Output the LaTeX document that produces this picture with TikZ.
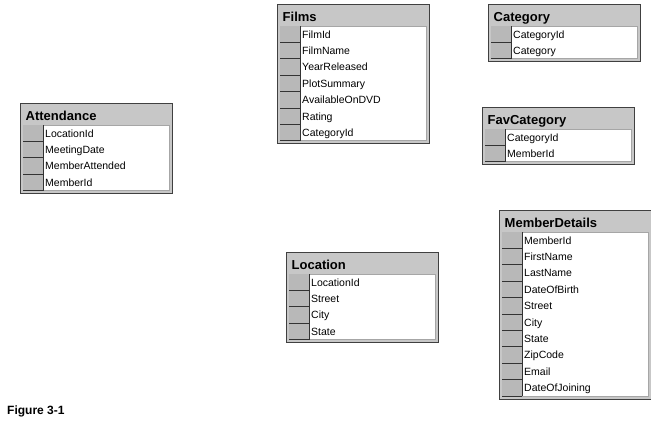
\documentclass[tikz,border=0pt]{standalone}
\usepackage{fontspec}
\setmainfont{Liberation Sans}
\usepackage{tikz}

\tikzset{
    tblframe/.style={draw=black!75, fill=black!22, line width=0.9pt},
    tblbody/.style={draw=black!35, fill=white, line width=0.7pt},
    keycol/.style={fill=black!28},
    keyline/.style={draw=black!80, line width=0.7pt},
    tbltitle/.style={font=\bfseries\fontsize{13}{15}\selectfont, anchor=base west, inner sep=0pt},
    fieldname/.style={font=\fontsize{10.5}{12}\selectfont, anchor=base west, inner sep=0pt},
}

% one table: name, top-left corner, number of rows, title, field list
\newcommand{\dbtable}[5]{%
    \begin{scope}[shift={#2}]
        \pgfmathsetmacro{\tblh}{22+16.4*#3+3}
        \draw[tblframe] (0,0) rectangle (152,\tblh);
        \draw[tblbody] (3,22) rectangle (149.5,\tblh-3);
        \fill[keycol] (3.4,22.4) rectangle (23,\tblh-3.4);
        \node[tbltitle] (#1) at (5.5,17) {#4};
        \foreach \f [count=\i] in {#5} {
            \pgfmathsetmacro{\ry}{22+16.4*\i}
            \draw[keyline] (3.4,\ry) -- (23,\ry);
            \node[fieldname] (#1-\i) at (25,\ry-4.4) {\f};
        }
        \draw[keyline] (23,22) -- (23,\tblh-3);
    \end{scope}}

\begin{document}
\begin{tikzpicture}[x=1pt, y=-1pt]
    \useasboundingbox[fill=white] (0,0) rectangle (651,424);
    \dbtable{films}{(277,4)}{7}{Films}{FilmId, FilmName, YearReleased, PlotSummary, AvailableOnDVD, Rating, CategoryId}
    \dbtable{category}{(488,4)}{2}{Category}{CategoryId, Category}
    \dbtable{attendance}{(20,103)}{4}{Attendance}{LocationId, MeetingDate, MemberAttended, MemberId}
    \dbtable{favcategory}{(482,107)}{2}{FavCategory}{CategoryId, MemberId}
    \dbtable{location}{(286,252)}{4}{Location}{LocationId, Street, City, State}
    \dbtable{memberdetails}{(499,210)}{10}{MemberDetails}{MemberId, FirstName, LastName, DateOfBirth, Street, City, State, ZipCode, Email, DateOfJoining}
    \node[anchor=base west, inner sep=0pt, font=\bfseries\fontsize{12}{14}\selectfont] (caption) at (7,414) {Figure 3-1};
\end{tikzpicture}
\end{document}
